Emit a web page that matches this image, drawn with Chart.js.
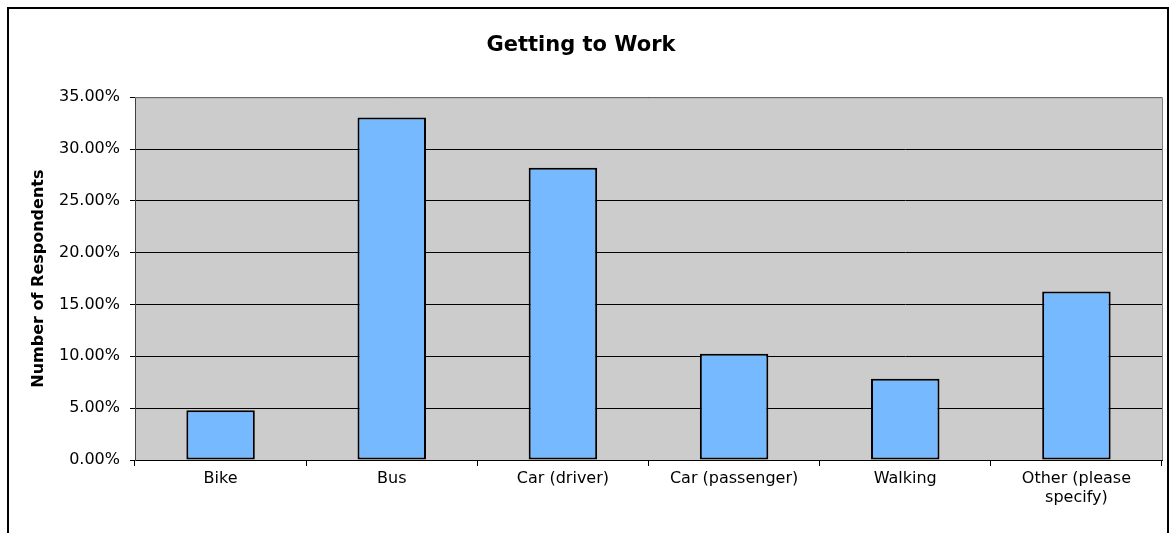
<!DOCTYPE html>
<html>
<head>
<meta charset="utf-8">
<script src="https://cdn.jsdelivr.net/npm/chart.js@4"></script>
<style>
body { margin: 0; background: #fff; }
#frame { position: absolute; left: 7px; top: 7px; width: 1158px; height: 600px; border: 2px solid #000; }
#wrap { position: absolute; left: 0; top: 0; width: 1170px; height: 533px; }
</style>
</head>
<body>
<div id="frame"></div>
<div id="wrap"><canvas id="chart"></canvas></div>
<script>

const categories = ["Bike", "Bus", "Car (driver)", "Car (passenger)", "Walking", ["Other (please", "specify)"]];
const shares = [4.8, 33.05, 28.2, 10.25, 7.85, 16.25];
const yTicks = [0, 5, 10, 15, 20, 25, 30, 35];

const FONT = "'DejaVu Sans', Verdana, sans-serif";

const plotBg = {
id: "plotBg",
beforeDraw(chart) {
const a = chart.chartArea;
const ctx = chart.ctx;
ctx.save();
ctx.fillStyle = "#cccccc";
ctx.fillRect(a.left, a.top, a.right - a.left, a.bottom - a.top);
ctx.restore();
},
afterDatasetsDraw(chart) {
const a = chart.chartArea;
const ctx = chart.ctx;
ctx.save();
ctx.strokeStyle = "#808080";
ctx.lineWidth = 1;
ctx.beginPath();
ctx.moveTo(a.left, a.top + 0.5);
ctx.lineTo(a.right + 0.5, a.top + 0.5);
ctx.lineTo(a.right + 0.5, a.bottom);
ctx.stroke();
ctx.restore();
}
};

new Chart(document.getElementById("chart"), {
type: "bar",
data: {
labels: categories,
datasets: [{
data: shares,
backgroundColor: "#76b9ff",
borderColor: "#000",
borderWidth: 2,
borderSkipped: false,
categoryPercentage: 1,
barPercentage: 0.4
}]
},
options: {
responsive: true,
maintainAspectRatio: false,
animation: false,
layout: { padding: { left: 0, right: 8, top: 0, bottom: 0 } },
plugins: {
legend: { display: false },
tooltip: { enabled: false },
title: {
display: true,
text: "Getting to Work",
color: "#000",
font: { family: FONT, size: 21, weight: "bold" },
padding: { top: 33, bottom: 39 }
},
},
scales: {
x: {
grid: { offset: true, drawOnChartArea: false, color: "#000", tickLength: 6 },
border: { color: "#000", width: 1 },
ticks: { color: "#000", font: { family: FONT, size: 16 }, padding: 3, maxRotation: 0, autoSkip: false },
afterFit: s => { s.height = 73; }
},
y: {
min: 0,
max: 35,
afterBuildTicks: s => { s.ticks = yTicks.map(v => ({ value: v })); },
grid: { color: "#000", tickLength: 5, lineWidth: 1 },
border: { color: "#404040", width: 1 },
ticks: {
color: "#000",
font: { family: FONT, size: 16 },
padding: 10,
callback: v => v.toFixed(2) + "%"
},
title: {
display: true,
text: "Number of Respondents",
color: "#000",
font: { family: FONT, size: 16, weight: "bold" },
padding: { top: 29, bottom: 0 }
},
afterFit: s => { s.width = 135; }
}
}
},
plugins: [plotBg]
});

</script>
</body>
</html>
